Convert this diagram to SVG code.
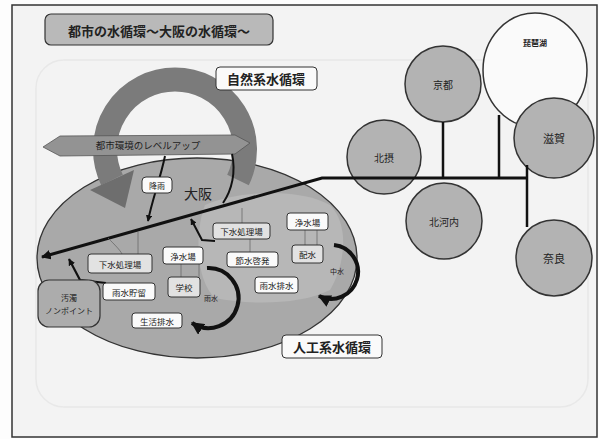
<svg xmlns="http://www.w3.org/2000/svg" width="599" height="439" viewBox="0 0 599 439">
<defs>
<style>
text{font-family:"Noto Sans CJK JP","Noto Sans",sans-serif;fill:#222;text-anchor:middle;dominant-baseline:central}
.b{font-weight:bold}
.box{fill:#fafafa;stroke:#333;stroke-width:1}
.gbox{fill:#e2e2e2;stroke:#333;stroke-width:1}
.circ{fill:#b3b3b3;stroke:#333;stroke-width:1.5}
.thin{stroke:#6a6a6a;stroke-width:0.8;fill:none}
.blk{stroke:#111;fill:none}
</style>
<marker id="ah2" viewBox="0 0 10 10" refX="9" refY="5" markerWidth="3.2" markerHeight="3.2" orient="auto" markerUnits="strokeWidth">
<path d="M0,0 L10,5 L0,10 z" fill="#111"/>
</marker>
</defs>
<rect x="0" y="0" width="599" height="439" fill="#fdfdfd"/>
<rect x="12" y="5" width="585" height="432" fill="#f3f3f3" stroke="#333" stroke-width="1.5"/>
<rect x="36" y="60" width="552" height="347" rx="28" fill="none" stroke="#e8e8e8" stroke-width="1.5"/>

<g id="title">
<rect x="45" y="14" width="228" height="31" rx="6" fill="#b9b9b9" stroke="#333" stroke-width="1.2"/>
<text x="159" y="30" font-size="13" class="b">都市の水循環～大阪の水循環～</text>
</g>

<g id="osaka">
<ellipse cx="197" cy="258" rx="160" ry="100" fill="#a9a9a9" stroke="#333" stroke-width="1.3"/>
<path d="M205,205 C240,190 300,188 330,205 C350,225 345,265 330,290 C300,305 250,305 215,298 C195,280 195,230 205,205 z" fill="#b7b7b7" stroke="none"/>
<text x="198" y="193" font-size="14">大阪</text>
</g>

<g id="natural-arc">
<path d="M238,180 A70,70 0 1 0 112,180" fill="none" stroke="#7b7b7b" stroke-width="24"/>
<polygon points="90,190 134,170 125,208" fill="#6e6e6e"/>
</g>

<g id="natural-label">
<rect x="216" y="67" width="101" height="23" rx="4" class="box" stroke-width="1.2"/>
<text x="266" y="78.5" font-size="13" class="b">自然系水循環</text>
</g>

<g id="banner">
<polygon points="43,147 60,136 235,135 250,143 235,154 60,156" fill="#939393" stroke="#555" stroke-width="0.8"/>
<text x="148" y="145" font-size="9.5">都市環境のレベルアップ</text>
</g>

<g id="biwako"><ellipse cx="535" cy="70" rx="52" ry="57" fill="#fafafa" stroke="#333" stroke-width="1.5"/><text x="535" y="42" font-size="8" class="b">琵琶湖</text></g>
<g id="kyoto"><circle cx="443" cy="84" r="38" class="circ"/><text x="443" y="84" font-size="10">京都</text></g>
<g id="shiga"><circle cx="554" cy="138" r="40" class="circ"/><text x="554" y="138" font-size="11">滋賀</text></g>
<g id="hokusetsu"><circle cx="384" cy="157" r="37" class="circ"/><text x="384" y="157" font-size="10">北摂</text></g>
<g id="kitakawachi"><circle cx="444" cy="221" r="38" class="circ"/><text x="444" y="221" font-size="10">北河内</text></g>
<g id="nara"><circle cx="554" cy="258" r="38" class="circ"/><text x="554" y="258" font-size="11">奈良</text></g>

<g id="connectors">
<path d="M527,178 L322,178 L42,257" class="blk" stroke-width="3" marker-end="url(#ah2)"/>
<path d="M443,122 V178" class="blk" stroke-width="2.5"/>
<path d="M499,115 V178" class="blk" stroke-width="2.5"/>
<path d="M527,165 V227" class="blk" stroke-width="2.5"/>
<path d="M165,156 C160,180 152,200 148,221" class="blk" stroke-width="2" marker-end="url(#ah2)"/>
<path d="M232,154 C236,172 232,190 223,203" class="blk" stroke-width="2"/>
<path d="M215,241 L202,240 L191,219" class="blk" stroke-width="2" marker-end="url(#ah2)"/>
<path d="M106,283 L80,280 L69,259" class="blk" stroke-width="2.2" marker-end="url(#ah2)"/>
<path d="M207,268 A30,30 0 1 1 192,323" class="blk" stroke-width="4" marker-end="url(#ah2)"/>
<path d="M334,245 A27,27 0 1 1 319,296" class="blk" stroke-width="4" marker-end="url(#ah2)"/>
<path d="M138,232 V254" class="thin"/>
<path d="M181,264 V277 M199,264 V277" class="thin"/>
<path d="M305,230 V245 M317,230 V245" class="thin"/>
<path d="M242,208 V223 M250,239 V252" class="thin"/>
<path d="M108,238 C115,245 120,250 122,254" class="thin"/>
</g>

<g id="rain"><rect x="142" y="177" width="30" height="16" rx="4" class="box"/><text x="157" y="185" font-size="8">降雨</text></g>
<g id="sewage-left"><rect x="88" y="254" width="64" height="19" rx="3" class="gbox"/><text x="120" y="263.5" font-size="8.5">下水処理場</text></g>
<g id="purif-center"><rect x="163" y="247" width="40" height="17" rx="3" class="box"/><text x="183" y="255.5" font-size="8.5">浄水場</text></g>
<g id="sewage-mid"><rect x="213" y="223" width="57" height="16" rx="3" class="gbox"/><text x="241.5" y="231" font-size="8.5">下水処理場</text></g>
<g id="purif-right"><rect x="287" y="213" width="41" height="17" rx="3" class="box"/><text x="307.5" y="221.5" font-size="8.5">浄水場</text></g>
<g id="save"><rect x="227" y="252" width="51" height="15" rx="3" class="box"/><text x="252.5" y="259.5" font-size="8.5">節水啓発</text></g>
<g id="distrib"><rect x="292" y="245" width="31" height="18" rx="3" class="gbox"/><text x="307.5" y="254" font-size="8.5">配水</text></g>
<g id="drain"><rect x="255" y="277" width="43" height="16" rx="3" class="box"/><text x="276.5" y="285" font-size="8.5">雨水排水</text></g>
<g id="school"><rect x="168" y="277" width="32" height="20" rx="3" class="gbox"/><text x="184" y="287" font-size="8.5">学校</text></g>
<g id="storage"><rect x="103" y="283" width="52" height="17" rx="3" class="box"/><text x="129" y="291.5" font-size="8.5">雨水貯留</text></g>
<g id="domestic"><rect x="132" y="313" width="50" height="15" rx="3" class="box"/><text x="157" y="320.5" font-size="8.5">生活排水</text></g>
<g id="loop-left-label"><text x="211" y="298" font-size="7">雨水</text></g>
<g id="loop-right-label"><text x="337" y="271" font-size="7">中水</text></g>

<g id="nonpoint">
<rect x="38" y="280" width="62" height="47" rx="11" fill="#acacac" stroke="#333" stroke-width="1.2"/>
<text x="69" y="297" font-size="8">汚濁</text>
<text x="69" y="310" font-size="8">ノンポイント</text>
</g>

<g id="artificial-label">
<rect x="282" y="335" width="100" height="23" rx="4" class="box" stroke-width="1.2"/>
<text x="332" y="346.5" font-size="13" class="b">人工系水循環</text>
</g>
</svg>
